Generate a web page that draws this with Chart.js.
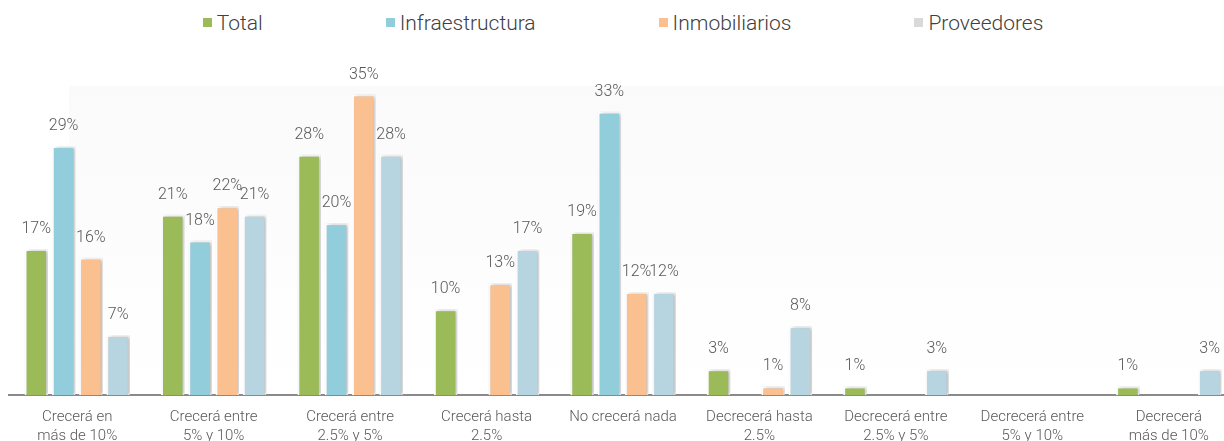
<!DOCTYPE html>
<html lang="es">
<head>
<meta charset="utf-8">
<script src="https://cdn.jsdelivr.net/npm/chart.js@4.4.0/dist/chart.umd.min.js"></script>
<style>
  html, body { margin: 0; padding: 0; background: #fff; overflow: hidden; }
  #wrap { position: relative; width: 1246px; height: 450px; }
  #legend {
    position: absolute; top: 10px; left: 0; width: 1246px;
    display: flex; justify-content: center; gap: 123px;
    font-family: Roboto, "Liberation Sans", sans-serif; font-weight: 300;
    font-size: 21px; color: #404040; line-height: 26px;
  }
  #legend span.box { display: inline-block; width: 9px; height: 9px; margin-right: 5px; vertical-align: 3px; }
  canvas { position: absolute; top: 0; left: 0; }
</style>
</head>
<body>
<div id="wrap">
  <div id="legend"></div>
  <canvas id="chart" width="1246" height="450"></canvas>
</div>
<script>
// Expectativas de crecimiento por sector (%)
const categorias = [
  ["Crecerá en", "más de 10%"],
  ["Crecerá entre", "5% y 10%"],
  ["Crecerá entre", "2.5% y 5%"],
  ["Crecerá hasta", "2.5%"],
  "No crecerá nada",
  ["Decrecerá hasta", "2.5%"],
  ["Decrecerá entre", "2.5% y 5%"],
  ["Decrecerá entre", "5% y 10%"],
  ["Decrecerá", "más de 10%"]
];
const total           = [17, 21, 28, 10, 19, 3, 1, null, 1];
const infraestructura = [29, 18, 20, null, 33, null, null, null, null];
const inmobiliarios   = [16, 22, 35, 13, 12, 1, null, null, null];
const proveedores     = [7, 21, 28, 17, 12, 8, 3, null, 3];

const series = [
  { label: "Total", data: total, color: "#9BBB59", legendColor: "#9BBB59" },
  { label: "Infraestructura", data: infraestructura, color: "#92CDDC", legendColor: "#92CDDC" },
  { label: "Inmobiliarios", data: inmobiliarios, color: "#FAC090", legendColor: "#FAC090" },
  { label: "Proveedores", data: proveedores, color: "#B7D5E0", legendColor: "#D9D9D9" }
];

const FONT = "Roboto, 'Liberation Sans', sans-serif";

// leyenda en HTML (espaciado amplio entre elementos)
const legendEl = document.getElementById("legend");
series.forEach(s => {
  const item = document.createElement("div");
  const box = document.createElement("span");
  box.className = "box";
  box.style.background = s.legendColor;
  item.appendChild(box);
  item.appendChild(document.createTextNode(s.label));
  legendEl.appendChild(item);
});

// fondo suave del área de gráfico + sombra de barras + etiquetas de valor
const decor = {
  id: "decor",
  beforeDraw(chart) {
    const { ctx, chartArea: a } = chart;
    const g = ctx.createLinearGradient(0, a.top, 0, a.bottom);
    g.addColorStop(0, "#fafafa");
    g.addColorStop(1, "#ffffff");
    ctx.save();
    ctx.fillStyle = g;
    ctx.fillRect(a.left + 60, a.top, a.right - a.left - 60, a.bottom - a.top);
    ctx.restore();
  },
  beforeDatasetsDraw(chart) {
    const ctx = chart.ctx;
    ctx.save();
    ctx.shadowColor = "rgba(0,0,0,0.28)";
    ctx.shadowBlur = 4;
    ctx.shadowOffsetX = 2;
    ctx.shadowOffsetY = 0;
  },
  afterDatasetsDraw(chart) {
    const ctx = chart.ctx;
    ctx.restore();
    ctx.save();
    ctx.font = "300 16px " + FONT;
    ctx.fillStyle = "#595959";
    ctx.textAlign = "center";
    ctx.textBaseline = "bottom";
    chart.data.datasets.forEach((ds, i) => {
      const meta = chart.getDatasetMeta(i);
      meta.data.forEach((el, j) => {
        const v = ds.data[j];
        if (v === null || v === undefined) return;
        ctx.fillText(v + "%", el.x, el.y - 12);
      });
    });
    ctx.restore();
  }
};

new Chart(document.getElementById("chart"), {
  type: "bar",
  data: {
    labels: categorias,
    datasets: series.map(s => ({
      label: s.label,
      data: s.data,
      backgroundColor: s.color,
      borderColor: "#ffffff",
      borderWidth: 2,
      borderSkipped: "bottom",
      categoryPercentage: 0.8,
      barPercentage: 0.86
    }))
  },
  options: {
    responsive: false,
    animation: false,
    layout: { padding: { top: 86, left: 9, right: 9, bottom: 0 } },
    plugins: {
      legend: { display: false },
      tooltip: { enabled: false }
    },
    scales: {
      x: {
        grid: { display: false },
        border: { display: true, color: "#8a8a8a", width: 2 },
        ticks: {
          color: "#595959",
          font: { family: FONT, size: 15, weight: 300, lineHeight: 1.3 },
          padding: 4,
          maxRotation: 0,
          autoSkip: false
        }
      },
      y: {
        display: false,
        min: 0,
        max: 36
      }
    }
  },
  plugins: [decor]
});
</script>
</body>
</html>
